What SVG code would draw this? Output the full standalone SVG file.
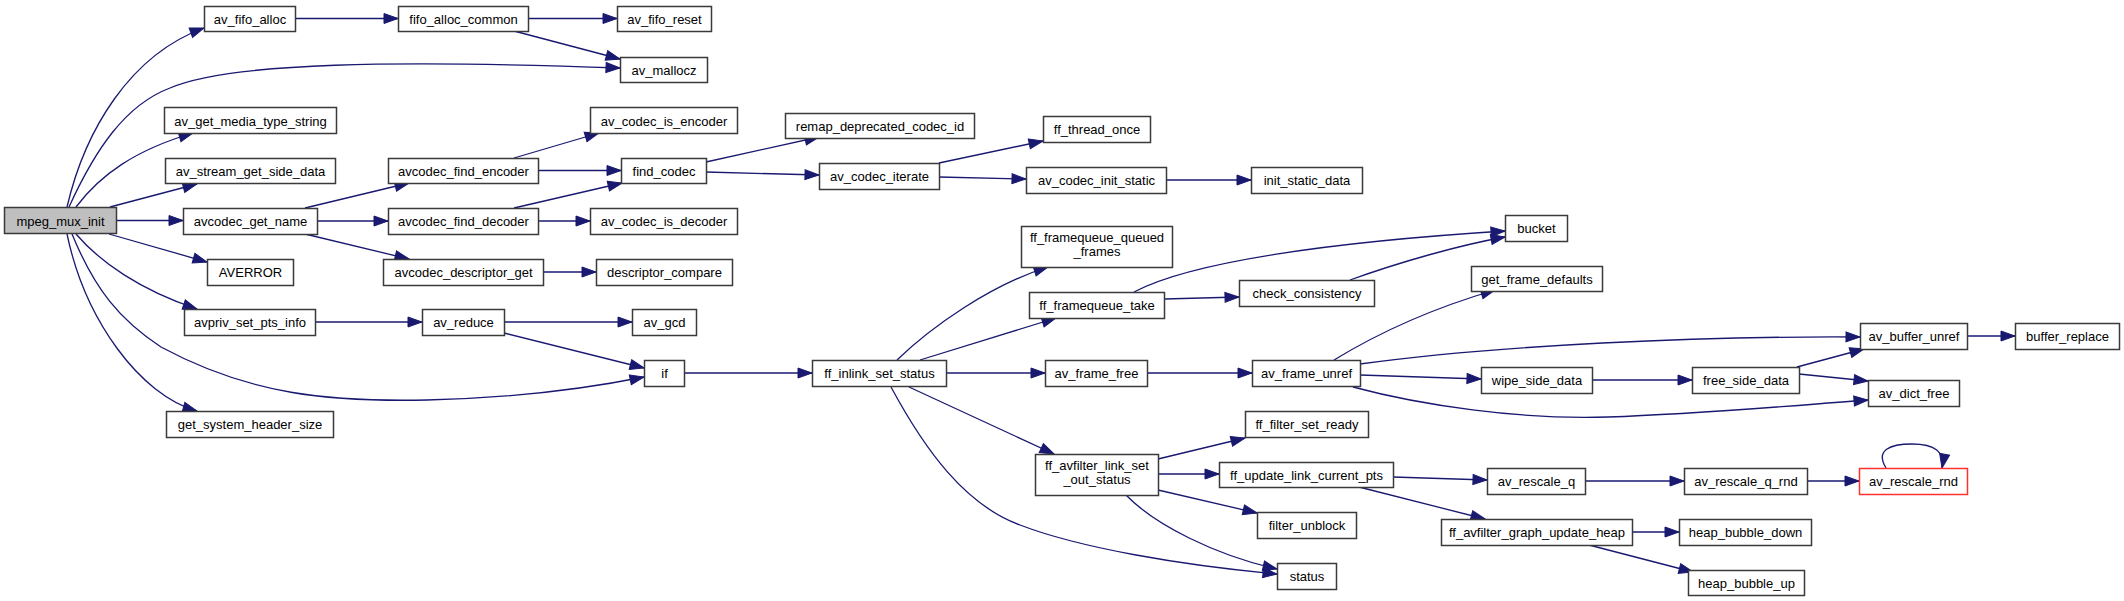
<svg xmlns="http://www.w3.org/2000/svg" width="2124" height="601" viewBox="0 0 2124 601">
<style>
.n rect{fill:#fff;stroke:#3a3a3a;stroke-width:1.5}
.n text{font-family:"Liberation Sans",Arial,sans-serif;font-size:13px;fill:#000;text-anchor:middle}
#n_mpeg_mux_init rect{fill:#bfbfbf}
#n_av_rescale_rnd rect{stroke:#ff3030}
.e path{fill:none;stroke:#191970;stroke-width:1.3;marker-end:url(#a)}
</style>
<defs>
<marker id="a" markerWidth="15" markerHeight="12" refX="14" refY="5.5" orient="auto" markerUnits="userSpaceOnUse" overflow="visible">
<path d="M0,0.5 L14,5.5 L0,10.5 z" fill="#191970" stroke="#191970" stroke-width="1"/>
</marker>
</defs>
<rect width="2124" height="601" fill="#fff"/>
<g id="edges" class="e">
<path d="M67,207 C85,130 130,55 204,28"/>
<path d="M69,207 C95,150 125,105 170,88 C230,62 400,60 620,68"/>
<path d="M76,207 C100,175 135,150 193,133"/>
<path d="M110,207 L197,184"/>
<path d="M116,220.5 L183,220.5"/>
<path d="M109,234 L207,262"/>
<path d="M76,234 C100,262 140,290 197,309"/>
<path d="M72,234 C95,290 120,320 161,347 C250,395 330,402 427,400 C510,398 580,390 644,377"/>
<path d="M67,234 C85,320 140,395 197,411"/>
<path d="M295,18.5 L398,18.5"/>
<path d="M528,18.5 L617,18.5"/>
<path d="M514,31 L620,59"/>
<path d="M305,208 L409,183"/>
<path d="M317,221 L388,221"/>
<path d="M305,234 L409,259"/>
<path d="M514,158 L599,133"/>
<path d="M538,170.5 L621,170.5"/>
<path d="M514,208 L622,183"/>
<path d="M538,221 L590,221"/>
<path d="M543,272 L596,272"/>
<path d="M706,162 L819,137"/>
<path d="M706,172 L819,175"/>
<path d="M939,163 L1043,141"/>
<path d="M939,177 L1026,179"/>
<path d="M1166,180 L1251,180"/>
<path d="M315,322 L422,322"/>
<path d="M504,322 L632,322"/>
<path d="M504,333 L644,368"/>
<path d="M684,373 L812,373"/>
<path d="M897,360 C930,328 990,285 1048,267"/>
<path d="M920,360 L1056,318"/>
<path d="M946,373 L1045,373"/>
<path d="M909,387 L1054,454"/>
<path d="M891,387 C925,450 965,505 1020,525 C1080,548 1180,565 1277,574"/>
<path d="M1164,299 L1239,297"/>
<path d="M1134,292 C1190,262 1330,242 1505,231"/>
<path d="M1350,280 C1400,262 1460,245 1505,237"/>
<path d="M1147,373 L1252,373"/>
<path d="M1334,360 C1370,338 1420,312 1495,290"/>
<path d="M1360,364 C1500,345 1700,336 1860,337"/>
<path d="M1360,375 L1481,379"/>
<path d="M1353,387 C1420,405 1520,420 1608,417 C1700,414 1800,405 1868,400"/>
<path d="M1592,380 L1692,380"/>
<path d="M1797,367 L1864,349"/>
<path d="M1799,374 L1868,381"/>
<path d="M1967,336 L2015,336"/>
<path d="M1158,459 L1245,438"/>
<path d="M1158,474 L1219,474"/>
<path d="M1158,490 L1257,513"/>
<path d="M1126,495 C1155,525 1215,555 1277,569"/>
<path d="M1393,477 L1487,480"/>
<path d="M1359,487 L1485,519"/>
<path d="M1585,481 L1684,481"/>
<path d="M1807,481 L1859,481"/>
<path d="M1886,468 C1875,450 1890,444 1912,444 C1935,444 1945,452 1942,468"/>
<path d="M1632,532 L1679,532"/>
<path d="M1589,545 L1693,572"/>
</g>
<g id="n_mpeg_mux_init" class="n"><rect x="4.5" y="207.5" width="112" height="26"/><text x="60.5" y="225.5">mpeg_mux_init</text></g>
<g id="n_av_fifo_alloc" class="n"><rect x="204.5" y="6.5" width="91" height="25"/><text x="250" y="23.5">av_fifo_alloc</text></g>
<g id="n_fifo_alloc_common" class="n"><rect x="398.5" y="6.5" width="130" height="25"/><text x="463.5" y="23.5">fifo_alloc_common</text></g>
<g id="n_av_fifo_reset" class="n"><rect x="617.5" y="6.5" width="94" height="25"/><text x="664.5" y="23.5">av_fifo_reset</text></g>
<g id="n_av_mallocz" class="n"><rect x="620.5" y="57.5" width="87" height="25"/><text x="664" y="74.5">av_mallocz</text></g>
<g id="n_av_get_media_type_string" class="n"><rect x="164.5" y="107.5" width="172" height="26"/><text x="250.5" y="125.5">av_get_media_type_string</text></g>
<g id="n_av_stream_get_side_data" class="n"><rect x="165.5" y="158.5" width="170" height="25"/><text x="250.5" y="175.5">av_stream_get_side_data</text></g>
<g id="n_avcodec_get_name" class="n"><rect x="183.5" y="208.5" width="134" height="26"/><text x="250.5" y="226">avcodec_get_name</text></g>
<g id="n_AVERROR" class="n"><rect x="207.5" y="259.5" width="86" height="26"/><text x="250.5" y="277">AVERROR</text></g>
<g id="n_avpriv_set_pts_info" class="n"><rect x="184.5" y="309.5" width="131" height="26"/><text x="250" y="327">avpriv_set_pts_info</text></g>
<g id="n_get_system_header_size" class="n"><rect x="166.5" y="411.5" width="167" height="26"/><text x="250" y="429">get_system_header_size</text></g>
<g id="n_avcodec_find_encoder" class="n"><rect x="388.5" y="158.5" width="150" height="25"/><text x="463.5" y="175.5">avcodec_find_encoder</text></g>
<g id="n_avcodec_find_decoder" class="n"><rect x="388.5" y="208.5" width="150" height="26"/><text x="463.5" y="226">avcodec_find_decoder</text></g>
<g id="n_avcodec_descriptor_get" class="n"><rect x="383.5" y="259.5" width="160" height="26"/><text x="463.5" y="277">avcodec_descriptor_get</text></g>
<g id="n_av_codec_is_encoder" class="n"><rect x="590.5" y="107.5" width="147" height="26"/><text x="664" y="125.5">av_codec_is_encoder</text></g>
<g id="n_find_codec" class="n"><rect x="621.5" y="158.5" width="85" height="25"/><text x="664" y="175.5">find_codec</text></g>
<g id="n_av_codec_is_decoder" class="n"><rect x="590.5" y="208.5" width="147" height="26"/><text x="664" y="226">av_codec_is_decoder</text></g>
<g id="n_descriptor_compare" class="n"><rect x="596.5" y="259.5" width="136" height="26"/><text x="664.5" y="277">descriptor_compare</text></g>
<g id="n_av_reduce" class="n"><rect x="422.5" y="309.5" width="82" height="26"/><text x="463.5" y="327">av_reduce</text></g>
<g id="n_av_gcd" class="n"><rect x="632.5" y="309.5" width="64" height="26"/><text x="664.5" y="327">av_gcd</text></g>
<g id="n_if" class="n"><rect x="644.5" y="360.5" width="40" height="26"/><text x="664.5" y="378">if</text></g>
<g id="n_remap_deprecated_codec_id" class="n"><rect x="785.5" y="113.5" width="189" height="25"/><text x="880" y="130.5">remap_deprecated_codec_id</text></g>
<g id="n_av_codec_iterate" class="n"><rect x="819.5" y="163.5" width="120" height="26"/><text x="879.5" y="181">av_codec_iterate</text></g>
<g id="n_ff_thread_once" class="n"><rect x="1043.5" y="116.5" width="107" height="26"/><text x="1097" y="134">ff_thread_once</text></g>
<g id="n_av_codec_init_static" class="n"><rect x="1026.5" y="167.5" width="140" height="26"/><text x="1096.5" y="185">av_codec_init_static</text></g>
<g id="n_init_static_data" class="n"><rect x="1251.5" y="167.5" width="111" height="26"/><text x="1307" y="185">init_static_data</text></g>
<g id="n_ff_framequeue_queued_frames" class="n"><rect x="1021.5" y="226.5" width="151" height="41"/><text x="1097" y="242">ff_framequeue_queued</text><text x="1097" y="256">_frames</text></g>
<g id="n_ff_framequeue_take" class="n"><rect x="1029.5" y="292.5" width="135" height="26"/><text x="1097" y="310">ff_framequeue_take</text></g>
<g id="n_check_consistency" class="n"><rect x="1239.5" y="280.5" width="135" height="26"/><text x="1307" y="298">check_consistency</text></g>
<g id="n_bucket" class="n"><rect x="1505.5" y="215.5" width="62" height="26"/><text x="1536.5" y="233">bucket</text></g>
<g id="n_get_frame_defaults" class="n"><rect x="1471.5" y="266.5" width="131" height="25"/><text x="1537" y="283.5">get_frame_defaults</text></g>
<g id="n_ff_inlink_set_status" class="n"><rect x="812.5" y="360.5" width="134" height="26"/><text x="879.5" y="378">ff_inlink_set_status</text></g>
<g id="n_av_frame_free" class="n"><rect x="1045.5" y="360.5" width="102" height="26"/><text x="1096.5" y="378">av_frame_free</text></g>
<g id="n_av_frame_unref" class="n"><rect x="1252.5" y="360.5" width="108" height="26"/><text x="1306.5" y="378">av_frame_unref</text></g>
<g id="n_av_buffer_unref" class="n"><rect x="1860.5" y="323.5" width="107" height="26"/><text x="1914" y="341">av_buffer_unref</text></g>
<g id="n_buffer_replace" class="n"><rect x="2015.5" y="323.5" width="104" height="26"/><text x="2067.5" y="341">buffer_replace</text></g>
<g id="n_wipe_side_data" class="n"><rect x="1481.5" y="367.5" width="111" height="26"/><text x="1537" y="385">wipe_side_data</text></g>
<g id="n_free_side_data" class="n"><rect x="1692.5" y="367.5" width="107" height="26"/><text x="1746" y="385">free_side_data</text></g>
<g id="n_av_dict_free" class="n"><rect x="1868.5" y="380.5" width="91" height="26"/><text x="1914" y="398">av_dict_free</text></g>
<g id="n_ff_filter_set_ready" class="n"><rect x="1245.5" y="411.5" width="123" height="26"/><text x="1307" y="429">ff_filter_set_ready</text></g>
<g id="n_ff_avfilter_link_set_out_status" class="n"><rect x="1035.5" y="454.5" width="123" height="41"/><text x="1097" y="470">ff_avfilter_link_set</text><text x="1097" y="484">_out_status</text></g>
<g id="n_ff_update_link_current_pts" class="n"><rect x="1219.5" y="462.5" width="174" height="25"/><text x="1306.5" y="479.5">ff_update_link_current_pts</text></g>
<g id="n_filter_unblock" class="n"><rect x="1257.5" y="512.5" width="99" height="26"/><text x="1307" y="530">filter_unblock</text></g>
<g id="n_status" class="n"><rect x="1277.5" y="563.5" width="59" height="26"/><text x="1307" y="581">status</text></g>
<g id="n_av_rescale_q" class="n"><rect x="1487.5" y="468.5" width="98" height="26"/><text x="1536.5" y="486">av_rescale_q</text></g>
<g id="n_av_rescale_q_rnd" class="n"><rect x="1684.5" y="468.5" width="123" height="26"/><text x="1746" y="486">av_rescale_q_rnd</text></g>
<g id="n_av_rescale_rnd" class="n"><rect x="1859.5" y="468.5" width="108" height="26"/><text x="1913.5" y="486">av_rescale_rnd</text></g>
<g id="n_ff_avfilter_graph_update_heap" class="n"><rect x="1441.5" y="519.5" width="191" height="26"/><text x="1537" y="537">ff_avfilter_graph_update_heap</text></g>
<g id="n_heap_bubble_down" class="n"><rect x="1679.5" y="519.5" width="132" height="26"/><text x="1745.5" y="537">heap_bubble_down</text></g>
<g id="n_heap_bubble_up" class="n"><rect x="1688.5" y="570.5" width="116" height="25"/><text x="1746.5" y="587.5">heap_bubble_up</text></g>
</svg>
